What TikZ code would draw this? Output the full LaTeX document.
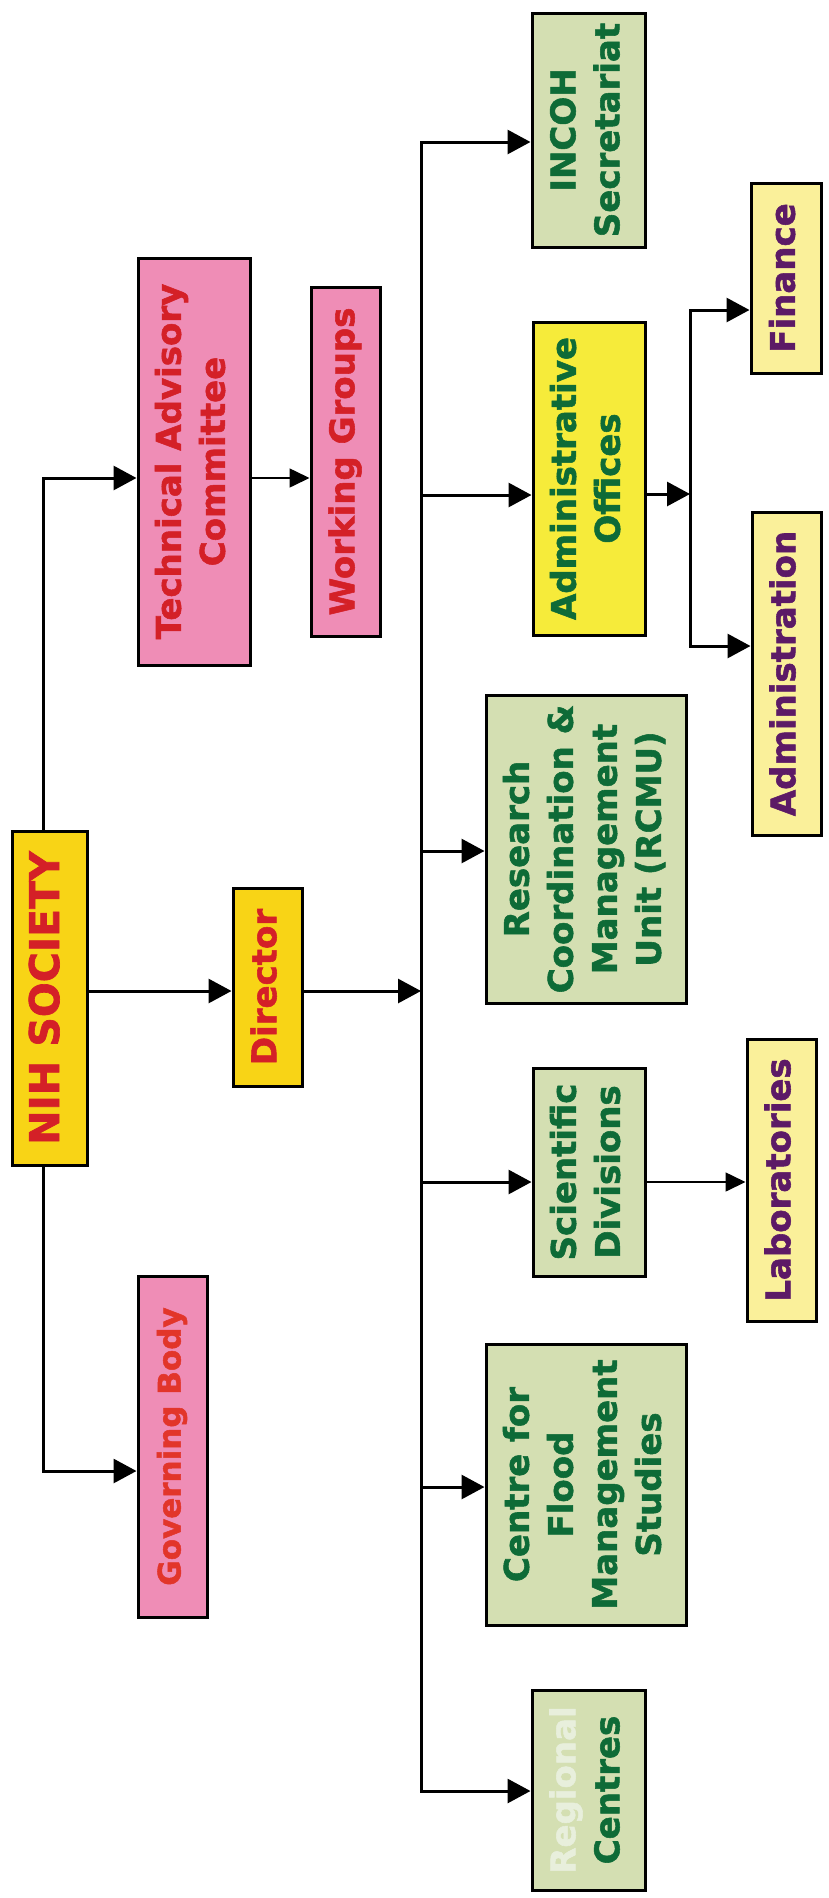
\documentclass[tikz,border=0pt]{standalone}
\usepackage{fontspec}
\setmainfont{DejaVu Sans}[BoldFeatures={FakeBold=1.6}]
\usetikzlibrary{arrows.meta}
\definecolor{pinkc}{HTML}{EF8DB6}
\definecolor{goldc}{HTML}{F8D416}
\definecolor{lemonc}{HTML}{F6EB3A}
\definecolor{palec}{HTML}{FAF09A}
\definecolor{greenc}{HTML}{D4DFB2}
\definecolor{redt}{HTML}{D42027}
\definecolor{gbt}{HTML}{E2352A}
\definecolor{greent}{HTML}{0E6B37}
\definecolor{purplet}{HTML}{5C1A66}
\definecolor{regt}{HTML}{E8EFDC}
\newcommand\rl[1]{\rotatebox{90}{\begin{tabular}{@{}c@{}}#1\end{tabular}}}
\begin{document}
\begin{tikzpicture}[x=1pt,y=-1pt,
  box/.style={draw=black, line width=3pt, inner sep=0pt, align=center,
    font=\fontsize{34}{44}\selectfont\bfseries},
  pinkbox/.style={box, fill=pinkc, text=redt},
  goldbox/.style={box, fill=goldc, text=redt},
  lemonbox/.style={box, fill=lemonc, text=greent},
  palebox/.style={box, fill=palec, text=purplet},
  greenbox/.style={box, fill=greenc, text=greent},
  ln/.style={line width=3pt, line join=miter},
  arr/.style={ln, -{Triangle[length=23pt,width=24pt]}},
  arrs/.style={ln, {Triangle[length=23pt,width=24pt]}-{Triangle[length=23pt,width=24pt]}},
  tarr/.style={line width=1.6pt, -{Triangle[length=20pt,width=19pt]}}]
\useasboundingbox (0,0) rectangle (828,1898);
\fill[white] (0,0) rectangle (828,1898);

% nodes
\node[goldbox, minimum width=75pt, minimum height=334pt, font=\fontsize{41}{48}\selectfont\bfseries] (nih) at (49.5,998) {\rl{NIH SOCIETY}};
\node[goldbox, minimum width=69pt, minimum height=198pt] (dir) at (267.5,987) {\rl{Director}};
\node[pinkbox, minimum width=112pt, minimum height=407pt] (tac) at (194,461.5) {\rl{Technical Advisory\\Committee}};
\node[pinkbox, minimum width=69pt, minimum height=349pt] (wg) at (345.5,461.5) {\rl{Working Groups}};
\node[pinkbox, minimum width=69pt, minimum height=341pt, font=\fontsize{31}{40}\selectfont\bfseries, text=gbt] (gb) at (172.5,1446.5) {\rl{Governing Body}};
\node[greenbox, minimum width=113pt, minimum height=234pt] (incoh) at (588.5,130) {\rl{INCOH\\Secretariat}};
\node[lemonbox, minimum width=112pt, minimum height=313pt] (ao) at (589,478.5) {\rl{Administrative\\Offices}};
\node[greenbox, minimum width=200pt, minimum height=308pt] (rcmu) at (586,849) {\rl{Research\\Coordination \&\\Management\\Unit (RCMU)}};
\node[greenbox, minimum width=112pt, minimum height=208pt] (sd) at (589,1172) {\rl{Scientific\\Divisions}};
\node[greenbox, minimum width=200pt, minimum height=281pt] (cfms) at (586,1484.5) {\rl{Centre for\\Flood\\Management\\Studies}};
\node[greenbox, minimum width=113pt, minimum height=200pt] (rc) at (588.5,1790) {\rl{\textcolor{regt}{Regional}\\Centres}};
\node[palebox, minimum width=70pt, minimum height=190pt] (fin) at (786,278) {\rl{Finance}};
\node[palebox, minimum width=69pt, minimum height=323pt] (adm) at (786.5,673.5) {\rl{Administration}};
\node[palebox, minimum width=69pt, minimum height=282pt] (lab) at (781.5,1180) {\rl{Laboratories}};

% connector points
\coordinate (tTop) at (43,478);
\coordinate (tBot) at (43,1471);
\coordinate (dirY) at (0,991);
\coordinate (bINC) at (421,142);
\coordinate (bAO) at (421,495);
\coordinate (bRC1) at (421,851);
\coordinate (bSD) at (421,1182);
\coordinate (bCF) at (421,1487);
\coordinate (bRC) at (421,1791);
\coordinate (subTop) at (690,310);
\coordinate (subMid) at (690,494);
\coordinate (subBot) at (690,646);

% connectors
\draw[arr] (tTop |- nih.north) -- (tTop) -- (tTop -| tac.west);
\draw[arr] (tBot |- nih.south) -- (tBot) -- (tBot -| gb.west);
\draw[tarr] (tTop -| tac.east) -- (tTop -| wg.west);
\draw[arr] (dirY -| nih.east) -- (dirY -| dir.west);
\draw[arr] (dirY -| dir.east) -- (dirY -| bINC);
\draw[arrs] (bINC -| incoh.west) -- (bINC) -- (bRC) -- (bRC -| rc.west);
\draw[arr] (bAO) -- (bAO -| ao.west);
\draw[arr] (bRC1) -- (bRC1 -| rcmu.west);
\draw[arr] (bSD) -- (bSD -| sd.west);
\draw[arr] (bCF) -- (bCF -| cfms.west);
\draw[tarr] (bSD -| sd.east) -- (bSD -| lab.west);
\draw[arr] (subMid -| ao.east) -- (subMid);
\draw[arrs] (subTop -| fin.west) -- (subTop) -- (subBot) -- (subBot -| adm.west);
\end{tikzpicture}
\end{document}
